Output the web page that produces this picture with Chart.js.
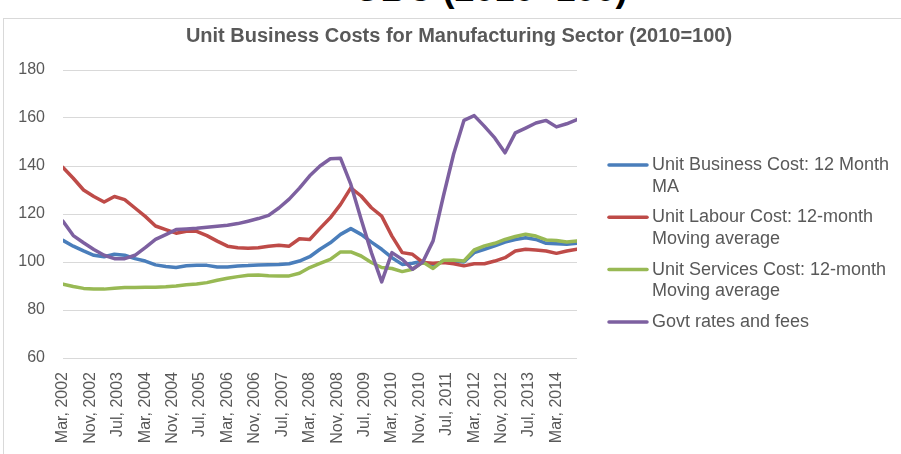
<!DOCTYPE html>
<html>
<head>
<meta charset="utf-8">
<title>Unit Business Costs for Manufacturing Sector</title>
<script src="https://cdn.jsdelivr.net/npm/chart.js@4.4.1/dist/chart.umd.min.js"></script>
<style>
body{margin:0;background:#fff;overflow:hidden;}
#wrap{position:relative;width:901px;height:454px;overflow:hidden;background:#fff;}
#heading{position:absolute;left:0;width:982px;top:-29px;text-align:center;font:bold 36px "Liberation Sans",Arial,sans-serif;line-height:36px;color:#000;white-space:nowrap;}
#frame{position:absolute;left:3px;top:18px;width:920px;height:460px;border-left:1px solid #d9d9d9;border-top:1px solid #d9d9d9;}
#chart{position:absolute;left:0;top:0;}
</style>
</head>
<body>
<div id="wrap">
    <div id="heading">UBC (2010=100)</div>
    <div id="frame"></div>
    <canvas id="chart" width="901" height="454"></canvas>
</div>

<script>
// ===============================
// DATA (quarterly, Mar 2002 - Sep 2014)
// ===============================

const quarters = [
    "Mar 2002","Jun 2002","Sep 2002","Dec 2002",
    "Mar 2003","Jun 2003","Sep 2003","Dec 2003",
    "Mar 2004","Jun 2004","Sep 2004","Dec 2004",
    "Mar 2005","Jun 2005","Sep 2005","Dec 2005",
    "Mar 2006","Jun 2006","Sep 2006","Dec 2006",
    "Mar 2007","Jun 2007","Sep 2007","Dec 2007",
    "Mar 2008","Jun 2008","Sep 2008","Dec 2008",
    "Mar 2009","Jun 2009","Sep 2009","Dec 2009",
    "Mar 2010","Jun 2010","Sep 2010","Dec 2010",
    "Mar 2011","Jun 2011","Sep 2011","Dec 2011",
    "Mar 2012","Jun 2012","Sep 2012","Dec 2012",
    "Mar 2013","Jun 2013","Sep 2013","Dec 2013",
    "Mar 2014","Jun 2014","Sep 2014"
];

const tickLabels = [
    "Mar, 2002","Nov, 2002","Jul, 2003","Mar, 2004","Nov, 2004",
    "Jul, 2005","Mar, 2006","Nov, 2006","Jul, 2007","Mar, 2008",
    "Nov, 2008","Jul, 2009","Mar, 2010","Nov, 2010","Jul, 2011",
    "Mar, 2012","Nov, 2012","Jul, 2013","Mar, 2014"
];

const businessCost = [
    109.0,106.6,104.6,102.8,102.2,103.2,102.8,101.4,100.4,98.8,
    98.1,97.7,98.4,98.6,98.6,97.9,97.9,98.3,98.5,98.8,
    98.9,99.0,99.3,100.4,102.2,105.3,108.0,111.5,113.9,111.5,
    108.3,105.3,101.8,99.0,99.5,100.3,98.0,100.5,100.4,100.0,
    103.9,105.3,106.7,108.3,109.4,110.1,109.4,107.8,107.6,107.4,
    107.8
];

const labourCost = [
    139.4,134.9,130.0,127.3,125.0,127.3,126.0,122.5,119.0,115.0,
    113.5,112.0,112.8,112.8,111.0,108.7,106.6,105.9,105.7,105.9,
    106.6,107.0,106.6,109.7,109.4,114.0,118.4,124.0,130.9,127.5,
    122.6,119.1,110.8,103.9,103.2,99.8,99.5,99.8,99.3,98.4,
    99.3,99.3,100.4,101.8,104.6,105.3,105.0,104.6,103.6,104.6,
    105.3
];

const servicesCost = [
    90.8,89.8,89.0,88.7,88.7,89.1,89.4,89.4,89.5,89.5,
    89.7,90.0,90.5,90.8,91.4,92.4,93.2,93.9,94.5,94.6,
    94.3,94.2,94.2,95.3,97.7,99.4,101.1,104.2,104.2,102.5,
    99.8,97.7,97.3,96.0,97.0,100.0,97.3,100.7,100.8,100.4,
    105.0,106.7,107.8,109.4,110.6,111.6,110.8,109.2,109.0,108.3,
    108.8
];

const govtFees = [
    117.0,111.0,108.0,105.2,102.8,101.4,101.4,102.8,106.0,109.4,
    111.4,113.5,113.8,114.1,114.5,114.9,115.3,116.0,117.0,118.1,
    119.4,122.5,126.2,130.8,135.9,140.0,143.0,143.2,132.3,117.8,
    103.9,91.7,103.9,101.1,97.0,100.0,108.8,127.4,145.0,159.0,
    161.0,156.5,151.7,145.5,153.8,155.8,157.9,159.0,156.3,157.6,
    159.3
];

const seriesNames = [
    "Unit Business Cost: 12 Month MA",
    "Unit Labour Cost: 12-month Moving average",
    "Unit Services Cost: 12-month Moving average",
    "Govt rates and fees"
];

const seriesColors = ["#4A7EBB","#BE4B48","#98B954","#7D60A0"];

// ===============================
// HELPERS
// ===============================

// month offset from Mar 2002 for each quarter
function toPoints(values){
    return values.map((v,i) => ({x: i*3, y: v, q: quarters[i]}));
}

function wrapText(ctx, text, maxWidth){
    const words = text.split(" ");
    const lines = [];
    let line = "";
    words.forEach(w => {
        const test = line ? line + " " + w : w;
        if (ctx.measureText(test).width > maxWidth && line) {
            lines.push(line);
            line = w;
        } else {
            line = test;
        }
    });
    if (line) lines.push(line);
    return lines;
}

const FONT = '"Liberation Sans", Arial, sans-serif';
const TEXT_GREY = "#595959";

// title + legend on the right, drawn on the canvas
const sideDecor = {
    id: "sideDecor",
    afterDraw(chart){
        const ctx = chart.ctx;
        ctx.save();

        ctx.font = "bold 20px " + FONT;
        ctx.fillStyle = TEXT_GREY;
        ctx.textAlign = "center";
        ctx.textBaseline = "middle";
        ctx.fillText("Unit Business Costs for Manufacturing Sector (2010=100)", 459, 36);

        ctx.font = "18px " + FONT;
        ctx.textAlign = "left";
        let y = 165;
        chart.data.datasets.forEach(ds => {
            const lines = wrapText(ctx, ds.label, 245);
            ctx.strokeStyle = ds.borderColor;
            ctx.lineWidth = 3.5;
            ctx.lineCap = "round";
            ctx.beginPath();
            ctx.moveTo(609, y);
            ctx.lineTo(647, y);
            ctx.stroke();
            ctx.fillStyle = TEXT_GREY;
            lines.forEach((l,k) => ctx.fillText(l, 652, y + k*21.7));
            y += lines.length*21.7 + 8.9;
        });

        ctx.restore();
    }
};

// ===============================
// CHART
// ===============================

const allSeries = [businessCost, labourCost, servicesCost, govtFees];

new Chart(document.getElementById("chart"), {
    type: "line",
    data: {
        datasets: allSeries.map((values,i) => ({
            label: seriesNames[i],
            data: toPoints(values),
            borderColor: seriesColors[i],
            backgroundColor: seriesColors[i],
            borderWidth: 3.5,
            pointRadius: 0,
            tension: 0,
            fill: false,
            borderJoinStyle: "round",
            borderCapStyle: "round",
            order: 3 - i
        }))
    },
    options: {
        responsive: false,
        animation: false,
        layout: {
            padding: {top: 70, right: 324, left: 0, bottom: 0}
        },
        plugins: {
            legend: {display: false},
            title: {display: false},
            tooltip: {
                callbacks: {
                    title: items => items[0].raw.q
                }
            }
        },
        scales: {
            x: {
                type: "linear",
                min: 0,
                max: 150,
                afterBuildTicks: scale => {
                    scale.ticks = tickLabels.map((t,i) => ({value: i*8}));
                },
                afterFit: scale => { scale.height = 96; },
                grid: {display: false, drawTicks: false},
                border: {display: false},
                ticks: {
                    autoSkip: false,
                    minRotation: 90,
                    maxRotation: 90,
                    padding: 14,
                    color: TEXT_GREY,
                    font: {size: 16, family: FONT},
                    callback: v => tickLabels[Math.round(v/8)]
                }
            },
            y: {
                min: 60,
                max: 180,
                afterFit: scale => { scale.width = 63; },
                grid: {color: "#d9d9d9", lineWidth: 1, drawTicks: false},
                border: {display: false},
                ticks: {
                    stepSize: 20,
                    padding: 18,
                    color: TEXT_GREY,
                    font: {size: 16, family: FONT}
                }
            }
        }
    },
    plugins: [sideDecor]
});
</script>
</body>
</html>
